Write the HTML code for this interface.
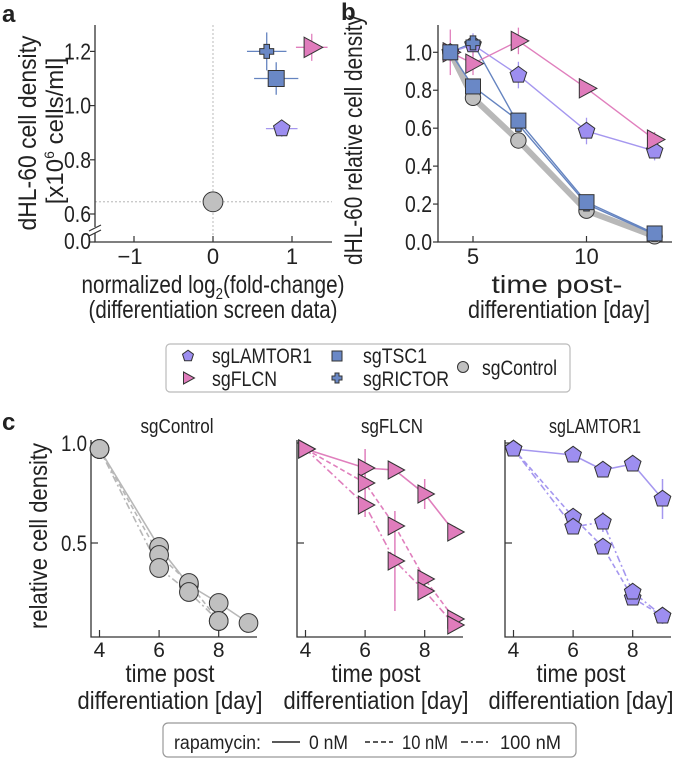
<!DOCTYPE html>
<html><head><meta charset="utf-8"><style>
html,body{margin:0;padding:0;background:#fff;}
svg{display:block;font-family:"Liberation Sans",Arial,sans-serif;}
</style></head><body>
<svg id="fig" width="678" height="759" viewBox="0 0 678 759" xmlns="http://www.w3.org/2000/svg"></svg>
<script>
// ---------- Panel a data ----------
const aNames = ["sgControl","sgLAMTOR1","sgTSC1","sgRICTOR","sgFLCN"];
const aFold = [0, 0.87, 0.80, 0.68, 1.25];
const aDensity = [0.645, 0.915, 1.10, 1.20, 1.215];
const aFoldErr = [0, 0.2, 0.28, 0.25, 0.2];
const aDensErr = [0, 0.03, 0.06, 0.07, 0.05];
const aXTicks = [-1, 0, 1];
const aYTicks = [0.6, 0.8, 1.0, 1.2];
// ---------- Panel b data ----------
const bDays = [4, 5, 7, 10, 13];
const bControl = [1.0, 0.76, 0.535, 0.165, 0.03];
const bTSC1 = [1.0, 0.82, 0.64, 0.21, 0.045];
const bRICTOR = [1.0, 1.05, 0.62, 0.20, 0.04];
const bLAMTOR1 = [1.0, 1.04, 0.88, 0.585, 0.48];
const bFLCN = [1.0, 0.94, 1.06, 0.81, 0.54];
const bFLCNErr = [0.12, 0.06, 0.07, 0.03, 0.04];
const bLAMTOR1Err = [0.05, 0.06, 0.07, 0.07, 0.05];
const bXTicks = [5, 10];
const bYTicks = [0.0, 0.2, 0.4, 0.6, 0.8, 1.0];
// ---------- Panel c data ----------
const cDays = [4, 6, 7, 8, 9];
const cCtrl0 = [0.97, 0.48, 0.29, 0.20, 0.10];
const cCtrl10 = [0.97, 0.44, 0.30, 0.11, null];
const cCtrl100 = [0.97, 0.375, 0.255, 0.11, null];
const cFLCN0 = [0.97, 0.875, 0.865, 0.745, 0.555];
const cFLCN10 = [0.97, 0.80, 0.585, 0.32, 0.12];
const cFLCN100 = [0.97, 0.69, 0.41, 0.26, 0.09];
const cFLCN0Err = [0, 0.02, 0, 0.075, 0.03];
const cFLCN10Err = [0, 0.17, 0, 0, 0];
const cFLCN100Err = [0, 0, 0.25, 0.03, 0];
const cLAM0 = [0.97, 0.94, 0.865, 0.895, 0.72];
const cLAM10 = [0.97, 0.63, 0.48, 0.225, 0.135];
const cLAM100 = [0.97, 0.58, 0.605, 0.255, 0.135];
const cLAM0Err = [0, 0, 0, 0, 0.1];
const cLAM100Err = [0, 0, 0.05, 0, 0.04];
const cXTicks = [4, 6, 8];
const cYTicks = [0.5, 1.0];

const NS = "http://www.w3.org/2000/svg";
const svg = document.getElementById("fig");
function el(tag, attrs, parent){
  const e = document.createElementNS(NS, tag);
  for (const k in attrs) e.setAttribute(k, attrs[k]);
  (parent||svg).appendChild(e);
  return e;
}
function txt(x,y,s,size,anchor,len,parent){
  const t = el("text",{x:x,y:y,"font-size":size,"text-anchor":anchor||"start",fill:"#222"},parent);
  if (len){ t.setAttribute("textLength",len); t.setAttribute("lengthAdjust","spacingAndGlyphs"); }
  t.textContent = s;
  return t;
}
function vtxt(cx,cy,s,size,len,parent){
  const t = el("text",{x:0,y:0,"font-size":size,"text-anchor":"middle",fill:"#222",
    transform:"translate("+cx+","+cy+") rotate(-90)"},parent);
  if (len){ t.setAttribute("textLength",len); t.setAttribute("lengthAdjust","spacingAndGlyphs"); }
  t.textContent = s;
  return t;
}
const COL = {
  sgControl:{fill:"#c0c0c0", line:"#b8b8b8"},
  sgLAMTOR1:{fill:"#9d8ef0", line:"#a597ef"},
  sgTSC1:{fill:"#6a88c6", line:"#6584c0"},
  sgRICTOR:{fill:"#6a88c6", line:"#6584c0"},
  sgFLCN:{fill:"#e07cbc", line:"#e07fbd"}
};
function marker(kind,x,y,s,parent){
  const st = {fill:COL[kind].fill, stroke:"#333", "stroke-width":1};
  let m;
  if (kind==="sgControl") m = el("circle",Object.assign({cx:x,cy:y,r:s*0.55},st),parent);
  else if (kind==="sgTSC1") m = el("rect",Object.assign({x:x-s*0.5,y:y-s*0.5,width:s,height:s},st),parent);
  else if (kind==="sgFLCN") m = el("polygon",Object.assign({points:(x-s*0.45)+","+(y-s*0.6)+" "+(x+s*0.65)+","+y+" "+(x-s*0.45)+","+(y+s*0.6)},st),parent);
  else if (kind==="sgLAMTOR1"){
    let p=[]; for(let i=0;i<5;i++){const a=-Math.PI/2+i*2*Math.PI/5; p.push((x+s*0.58*Math.cos(a)).toFixed(1)+","+(y+s*0.58*Math.sin(a)).toFixed(1));}
    m = el("polygon",Object.assign({points:p.join(" ")},st),parent);
  } else {
    const a=s*0.5,b=s*0.2;
    const pts=[[-b,-a],[b,-a],[b,-b],[a,-b],[a,b],[b,b],[b,a],[-b,a],[-b,b],[-a,b],[-a,-b],[-b,-b]].map(q=>(x+q[0])+","+(y+q[1])).join(" ");
    m = el("polygon",Object.assign({points:pts},st),parent);
  }
  return m;
}
const AX = {stroke:"#333","stroke-width":1.3,fill:"none"};

// ================= Panel a =================
const ga = el("g",{});  
const axs = v => 213 + 79*v;
const ays = v => 214 - (v-0.6)*271;
txt(2,22,"a",24,"start",null,ga).setAttribute("font-weight","bold");
el("line",{x1:axs(0),y1:25,x2:axs(0),y2:242,stroke:"#aaa","stroke-width":0.8,"stroke-dasharray":"2,2"},ga);
el("line",{x1:95,y1:ays(aDensity[0]),x2:332,y2:ays(aDensity[0]),stroke:"#aaa","stroke-width":0.8,"stroke-dasharray":"2,2"},ga);
const aAxY = el("path",Object.assign({d:"M95,25 V227 M95,233 V242 H332"},AX),ga);
 
el("line",{x1:89,y1:231,x2:101,y2:225,stroke:"#333","stroke-width":1.2},ga);
el("line",{x1:89,y1:236,x2:101,y2:230,stroke:"#333","stroke-width":1.2},ga);
aYTicks.forEach(v=>{
  el("line",{x1:90,y1:ays(v),x2:95,y2:ays(v),stroke:"#333","stroke-width":1.2},ga);
  const t = txt(91,ays(v)+8,v.toFixed(1),23,"end",27,ga);
   
});
el("line",{x1:90,y1:242,x2:95,y2:242,stroke:"#333","stroke-width":1.2},ga);
txt(91,249,"0.0",23,"end",27,ga);
aXTicks.forEach(v=>{
  el("line",{x1:axs(v),y1:236,x2:axs(v),y2:242,stroke:"#333","stroke-width":1.2},ga);
  const t = txt(axs(v)-(v<0?4:0),264,v<0?"\u2212"+Math.abs(v):String(v),22,"middle",null,ga);
   
});
const aSizes = {sgControl:18,sgLAMTOR1:15,sgTSC1:16,sgRICTOR:14,sgFLCN:17};
aNames.forEach((n,i)=>{
  const x=axs(aFold[i]), y=ays(aDensity[i]);
  if (aFoldErr[i]) el("line",{x1:axs(aFold[i]-aFoldErr[i]),y1:y,x2:axs(aFold[i]+aFoldErr[i]),y2:y,stroke:COL[n].line,"stroke-width":1.3},ga);
  if (aDensErr[i]) el("line",{x1:x,y1:ays(aDensity[i]-aDensErr[i]),x2:x,y2:ays(aDensity[i]+aDensErr[i]),stroke:COL[n].line,"stroke-width":1.3},ga);
  const m = marker(n,x,y,aSizes[n],ga);
   
});
const ayl = el("text",{x:0,y:0,"font-size":25,"text-anchor":"middle",fill:"#222",transform:"translate(36,133) rotate(-90)",textLength:195,lengthAdjust:"spacingAndGlyphs"},ga);
ayl.textContent="dHL-60 cell density";
 
const ayl2 = el("text",{x:0,y:0,"font-size":24,"text-anchor":"middle",fill:"#222",transform:"translate(63,131) rotate(-90)"},ga);
ayl2.innerHTML='[x10<tspan font-size="14" dy="-9">6</tspan><tspan dy="9"> cells/ml]</tspan>';
 
const axl = el("text",{x:213,y:293,"font-size":25,"text-anchor":"middle",fill:"#222",textLength:263,lengthAdjust:"spacingAndGlyphs"},ga);
axl.innerHTML='normalized log<tspan font-size="16" dy="6">2</tspan><tspan dy="-6">(fold-change)</tspan>';
 
const axl2 = txt(213,318,"(differentiation screen data)",25,"middle",249,ga);
 

// ================= Panel b =================
const gb = el("g",{});  
const bxs = d => 473 + (d-5)*22.7;
const bys = v => 242 - v*189.7;
txt(341,20,"b",24,"start",null,gb).setAttribute("font-weight","bold");
el("path",Object.assign({d:"M438,25 V242 H672"},AX),gb);
bYTicks.forEach(v=>{
  el("line",{x1:433,y1:bys(v),x2:438,y2:bys(v),stroke:"#333","stroke-width":1.2},gb);
  const t = txt(432,bys(v)+8,v.toFixed(1),23,"end",27,gb);
   
});
bXTicks.forEach(v=>{
  el("line",{x1:bxs(v),y1:236,x2:bxs(v),y2:242,stroke:"#333","stroke-width":1.2},gb);
  const t = txt(bxs(v),264,String(v),22,"middle",null,gb);
   
});
function bLine(vals,name,w,errs){
  const pl = el("polyline",{points:bDays.map((d,i)=>bxs(d)+","+bys(vals[i])).join(" "),fill:"none",stroke:COL[name].line,"stroke-width":w,"stroke-linejoin":"round"},gb);
   
  if (errs) bDays.forEach((d,i)=>{ el("line",{x1:bxs(d),y1:bys(vals[i]-errs[i]),x2:bxs(d),y2:bys(vals[i]+errs[i]),stroke:COL[name].line,"stroke-width":1.3},gb); });
}
function bMarks(vals,name,s){
  bDays.forEach((d,i)=>{ const m=marker(name,bxs(d),bys(vals[i]),s,gb);
      });
}
bLine(bControl,"sgControl",6);
bLine(bTSC1,"sgTSC1",1.4);
bLine(bRICTOR,"sgRICTOR",1.4);
bLine(bLAMTOR1,"sgLAMTOR1",1.4,bLAMTOR1Err);
bLine(bFLCN,"sgFLCN",1.4,bFLCNErr);
bMarks(bControl,"sgControl",14);
bMarks(bLAMTOR1,"sgLAMTOR1",15);
bMarks(bFLCN,"sgFLCN",16);
bMarks(bRICTOR,"sgRICTOR",14);
bMarks(bTSC1,"sgTSC1",15);
const byl = vtxt(362,140,"dHL-60 relative cell density",25,250,gb);
 
const bxl = txt(557,293,"time post-",25,"middle",131,gb);
 
txt(559,318,"differentiation [day]",25,"middle",182,gb);

// ================= Legend 1 =================
const gl = el("g",{});  
el("rect",{x:166,y:344,width:404,height:48,rx:4,fill:"#fff",stroke:"#bbb","stroke-width":1.2},gl);
const legItems = [["sgLAMTOR1",188,356,212,363,100],["sgFLCN",188,378,212,386,65],["sgTSC1",337,356,363,363,64],["sgRICTOR",337,378,363,386,86],["sgControl",463,367,482,375,75]];
legItems.forEach(it=>{
  const m = marker(it[0],it[1],it[2],10,gl);
   
  const t = txt(it[3],it[4],it[0],21,"start",it[5],gl);
   
});

// ================= Panel c =================
const gc = el("g",{});  
txt(2,430,"c",24,"start",null,gc).setAttribute("font-weight","bold");
const cys = v => 443 - (v-1)*200;
const DASH = {"0":null,"10":"5,3","100":"7,3,2,3"};
const cPanels = [
  {title:"sgControl",left:91,tc:177,tw:73,lc:170,name:"sgControl",series:[[cCtrl0,"0",null],[cCtrl10,"10",null],[cCtrl100,"100",null]]},
  {title:"sgFLCN",left:297,tc:392,tw:62,lc:376,name:"sgFLCN",series:[[cFLCN0,"0",cFLCN0Err],[cFLCN10,"10",cFLCN10Err],[cFLCN100,"100",cFLCN100Err]]},
  {title:"sgLAMTOR1",left:505,tc:595,tw:92,lc:581,name:"sgLAMTOR1",series:[[cLAM0,"0",cLAM0Err],[cLAM10,"10",null],[cLAM100,"100",cLAM100Err]]}
];
cPanels.forEach((p,pi)=>{
  const g = el("g",{},gc);
   
  const x4 = p.left + 8.5;
  const cxs = d => x4 + (d-4)*29.8;
  const tt = txt(p.tc,433,p.title,20,"middle",p.tw,g);
   
  el("path",Object.assign({d:"M"+p.left+",440 V637 H"+(p.left+166)},AX),g);
  cYTicks.forEach(v=>{
    el("line",{x1:p.left,y1:cys(v),x2:p.left+7,y2:cys(v),stroke:"#333","stroke-width":1.2},g);
    if (pi===0){ const t=txt(87,cys(v)+8,v.toFixed(1),22,"end",26,g);
        }
  });
  cXTicks.forEach(v=>{
    el("line",{x1:cxs(v),y1:630,x2:cxs(v),y2:637,stroke:"#333","stroke-width":1.2},g);
    const t=txt(cxs(v),657,String(v),21,"middle",null,g);
     
  });
  const xl = txt(p.lc,682,"time post",25,"middle",89,g);
   
  txt(p.lc,709,"differentiation [day]",25,"middle",185,g);
  p.series.forEach(s=>{
    const vals=s[0], pts=[];
    cDays.forEach((d,i)=>{ if(vals[i]!=null) pts.push(cxs(d)+","+cys(vals[i])); });
    const pl = el("polyline",{points:pts.join(" "),fill:"none",stroke:COL[p.name].line,"stroke-width":1.6},g);
    if (DASH[s[1]]) pl.setAttribute("stroke-dasharray",DASH[s[1]]);
     
    if (s[2]) cDays.forEach((d,i)=>{ if(s[2][i]) el("line",{x1:cxs(d),y1:cys(vals[i]-s[2][i]),x2:cxs(d),y2:cys(vals[i]+s[2][i]),stroke:COL[p.name].line,"stroke-width":1.5},g); });
  });
  p.series.forEach(s=>{
    cDays.forEach((d,i)=>{ if(s[0][i]!=null){ const m=marker(p.name,cxs(d),cys(s[0][i]),p.name==="sgControl"?17:15,g);
        } });
  });
});
const cyl = vtxt(47,536,"relative cell density",25,186,gc);
 

// ================= Legend 2 =================
const gl2 = el("g",{});  
el("rect",{x:163,y:723,width:413,height:34,rx:5,fill:"#fff",stroke:"#999","stroke-width":1.2},gl2);
txt(174,749,"rapamycin:",19,"start",87,gl2);
el("line",{x1:272,y1:742,x2:300,y2:742,stroke:"#222","stroke-width":1.6},gl2);
const l0=txt(309,749,"0 nM",19,"start",39,gl2);  
el("line",{x1:365,y1:742,x2:393,y2:742,stroke:"#222","stroke-width":1.6,"stroke-dasharray":"5,3"},gl2);
const l1=txt(402,749,"10 nM",19,"start",46,gl2);  
el("line",{x1:461,y1:742,x2:491,y2:742,stroke:"#222","stroke-width":1.6,"stroke-dasharray":"7,3,2,3"},gl2);
const l2=txt(500,749,"100 nM",19,"start",61,gl2);  
</script>
</body></html>
